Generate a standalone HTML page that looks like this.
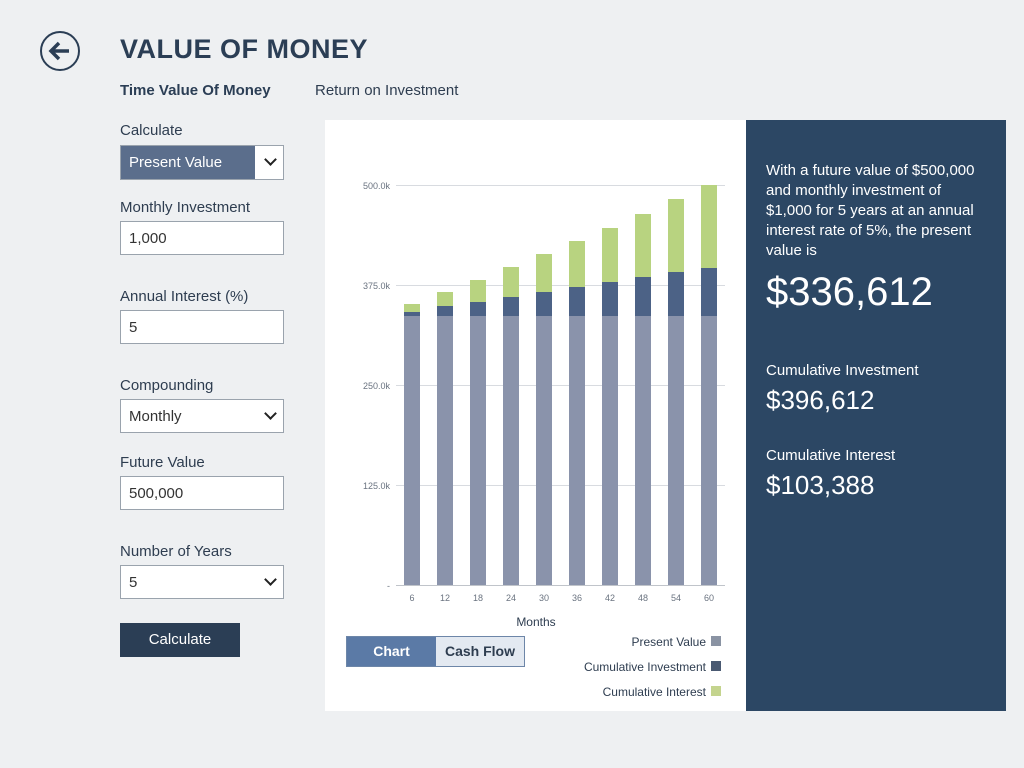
<!DOCTYPE html>
<html><head><style>
body{margin:0;width:1024px;height:768px;background:#eef0f2;font-family:"Liberation Sans",sans-serif;position:relative;overflow:hidden;color:#2b3e55}
.a{position:absolute}
.lbl{font-size:15px;color:#2e3d50}
.inp{position:absolute;left:120px;width:164px;height:34px;border:1px solid #9aa3ad;background:#fff;box-sizing:border-box;font-size:15px;padding:8px 8px;color:#333}
.chev{position:absolute;right:8px;top:9px;width:7px;height:7px;border-right:2px solid #222;border-bottom:2px solid #222;transform:rotate(45deg)}
</style></head><body>
<svg class="a" style="left:39px;top:30px" width="42" height="42"><circle cx="21" cy="21" r="19" fill="none" stroke="#2b3e55" stroke-width="2"/>
<path d="M30 21H13M20 13l-8 8 8 8" fill="none" stroke="#2b3e55" stroke-width="3.5"/></svg>
<div class="a" style="left:120px;top:34px;font-size:27px;font-weight:bold;color:#2b3e55;letter-spacing:0.5px">VALUE OF MONEY</div>
<div class="a" style="left:120px;top:82px;font-size:15px;font-weight:bold;color:#2b3e55">Time Value Of Money</div>
<div class="a" style="left:315px;top:82px;font-size:15px;color:#2e3d50">Return on Investment</div>

<div class="a lbl" style="left:120px;top:122px">Calculate</div>
<div class="a" style="left:120px;top:145px;width:164px;height:35px;border:1px solid #9aa3ad;box-sizing:border-box;background:#fff">
 <div class="a" style="left:0;top:0;width:134px;height:33px;background:#5b6e8c;color:#fff;font-size:15px;padding:8px;box-sizing:border-box">Present Value</div>
 <div class="chev"></div></div>
<div class="a lbl" style="left:120px;top:199px">Monthly Investment</div>
<div class="inp" style="top:221px">1,000</div>
<div class="a lbl" style="left:120px;top:288px">Annual Interest (%)</div>
<div class="inp" style="top:310px">5</div>
<div class="a lbl" style="left:120px;top:377px">Compounding</div>
<div class="inp" style="top:399px">Monthly<div class="chev"></div></div>
<div class="a lbl" style="left:120px;top:454px">Future Value</div>
<div class="inp" style="top:476px">500,000</div>
<div class="a lbl" style="left:120px;top:543px">Number of Years</div>
<div class="inp" style="top:565px">5<div class="chev"></div></div>
<div class="a" style="left:120px;top:623px;width:120px;height:34px;background:#2b3e55;color:#fff;font-size:15px;text-align:center;line-height:34px">Calculate</div>

<div class="a" style="left:325px;top:120px;width:421px;height:591px;background:#fff"></div>
<svg class="a" style="left:0;top:0" width="1024" height="768" font-family="Liberation Sans, sans-serif">
<g stroke="#d8dbe0" stroke-width="1">
<line x1="396" x2="725" y1="185.5" y2="185.5"/><line x1="396" x2="725" y1="285.5" y2="285.5"/>
<line x1="396" x2="725" y1="385.5" y2="385.5"/><line x1="396" x2="725" y1="485.5" y2="485.5"/>
<line x1="396" x2="725" y1="585.5" y2="585.5" stroke="#c0c4ca"/></g>
<g font-size="9" fill="#6a7380" text-anchor="end">
<text x="390" y="189">500.0k</text><text x="390" y="289">375.0k</text><text x="390" y="389">250.0k</text><text x="390" y="489">125.0k</text><text x="390" y="589">-</text></g>
<g id="bars"></g>
<g font-size="9" fill="#6a7380" text-anchor="middle">
<text x="412" y="601">6</text><text x="445" y="601">12</text><text x="478" y="601">18</text><text x="511" y="601">24</text><text x="544" y="601">30</text><text x="577" y="601">36</text><text x="610" y="601">42</text><text x="643" y="601">48</text><text x="676" y="601">54</text><text x="709" y="601">60</text></g>
<text x="536" y="626" font-size="12" fill="#2e3d50" text-anchor="middle">Months</text>
<g font-size="12" fill="#2e3d50" text-anchor="end">
<text x="706" y="646">Present Value</text><text x="706" y="671">Cumulative Investment</text><text x="706" y="696">Cumulative Interest</text></g>
<rect x="711" y="636" width="10" height="10" fill="#8a93a3"/><rect x="711" y="661" width="10" height="10" fill="#4a5a72"/><rect x="711" y="686" width="10" height="10" fill="#c4d48e"/>
</svg>
<div class="a" style="left:346px;top:636px;width:179px;height:31px;border:1px solid #6d86a8;box-sizing:border-box;background:#e3e9f1">
<div class="a" style="left:0;top:0;width:89px;height:29px;background:#5b7aa6;color:#fff;font-weight:bold;font-size:14px;text-align:center;line-height:29px">Chart</div>
<div class="a" style="left:89px;top:0;width:88px;height:29px;color:#2e3d50;font-weight:bold;font-size:14px;text-align:center;line-height:29px">Cash Flow</div></div>

<div class="a" style="left:746px;top:120px;width:260px;height:591px;background:#2c4764"></div>
<div class="a" style="left:766px;top:161px;width:225px;font-size:15px;line-height:20px;color:#fff">With a future value of $500,000 and monthly investment of $1,000 for 5 years at an annual interest rate of 5%, the present value is</div>
<div class="a" style="left:766px;top:270px;font-size:40px;color:#fff">$336,612</div>
<div class="a" style="left:766px;top:362px;font-size:15px;color:#fff">Cumulative Investment</div>
<div class="a" style="left:766px;top:385px;font-size:26px;color:#fff">$396,612</div>
<div class="a" style="left:766px;top:447px;font-size:15px;color:#fff">Cumulative Interest</div>
<div class="a" style="left:766px;top:470px;font-size:26px;color:#fff">$103,388</div>
<script>
var inv=[312,306,302,297,292,287,282,277,272,268],it=[304,292,280,267,254,241,228,214,199,185],s='';
for(var i=0;i<10;i++){var x=404+33*i;
s+='<rect x="'+x+'" y="316" width="16" height="269" fill="#8a93ab"/>';
s+='<rect x="'+x+'" y="'+inv[i]+'" width="16" height="'+(316-inv[i])+'" fill="#4c6286"/>';
s+='<rect x="'+x+'" y="'+it[i]+'" width="16" height="'+(inv[i]-it[i])+'" fill="#b8d380"/>';}
document.getElementById('bars').innerHTML=s;
</script>
</body></html>
